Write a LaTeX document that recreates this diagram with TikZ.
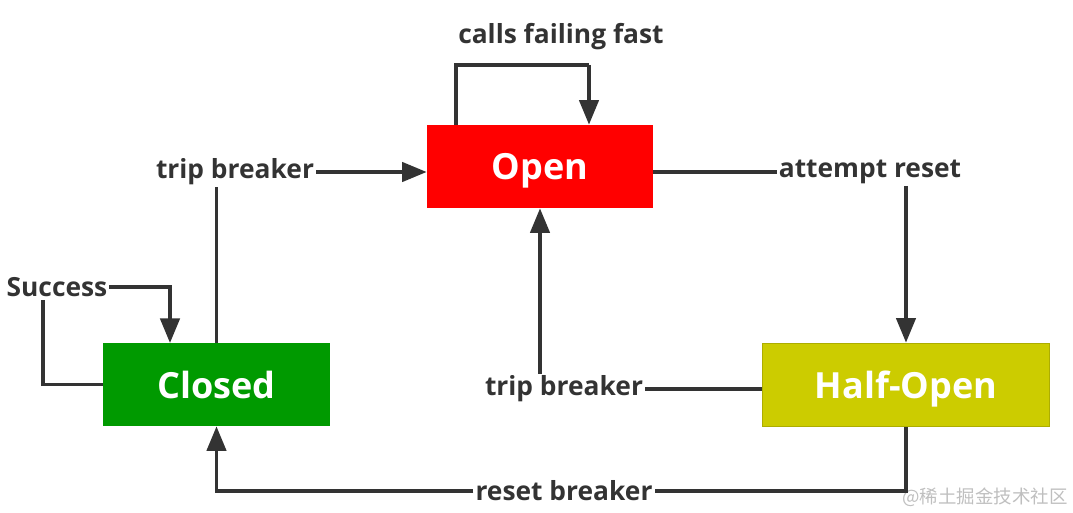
\documentclass[tikz,border=0pt]{standalone}
\usepackage{fontspec}
\setmainfont{Open Sans}
\newfontfamily\cjk{Noto Sans CJK SC}
\usetikzlibrary{arrows.meta}
\definecolor{linegray}{HTML}{333333}
\definecolor{okgreen}{HTML}{009A00}
\definecolor{halfyellow}{HTML}{CCCC00}
\begin{document}
	\begin{tikzpicture}[x=0.02cm,y=-0.02cm,
		state/.style={minimum height=1.66cm,text=white,font=\bfseries\fontsize{20.5}{24}\selectfont,inner sep=0pt,text depth=0pt},
		lbl/.style={text=linegray,font=\bfseries\fontsize{15}{18}\selectfont,inner sep=1pt},
		conn/.style={draw=linegray,line width=2pt},
		arr/.style={conn,-{Triangle[length=14pt,width=11pt]}}]
		\useasboundingbox (0,0) rectangle (1073,513);
		\node[state,fill=red,minimum width=4.52cm] (open) at (540,166.5) {Open};
		\node[state,fill=okgreen,minimum width=4.54cm] (closed) at (216.5,384.5) {Closed};
		\node[state,fill=halfyellow,draw=halfyellow!85!black,line width=1pt,minimum width=5.74cm] (half) at (906,385) {Half-Open};
		\node[lbl] (fast) at (561,37) {calls failing fast};
		\node[lbl] (tripA) at (235,172) {trip breaker};
		\node[lbl] (attempt) at (870,172) {attempt reset};
		\node[lbl] (tripB) at (564,389) {trip breaker};
		\node[lbl] (reset) at (564,491) {reset breaker};
		\node[lbl] (succ) at (57,287) {Success};
		\node[text=black!25,font=\cjk\fontsize{10.5}{12}\selectfont,inner sep=0pt] (mark) at (985,497) {@稀土掘金技术社区};
		\coordinate (loopL) at (456,65);
		\coordinate (loopR) at (589,65);
		\coordinate (succR) at (170,343);
		\coordinate (succL) at (43,300);
		% open -> open
		\draw[conn] (open.north -| loopL) -- (loopL) -- (loopR);
		\draw[arr] (loopR) -- (open.north -| loopR);
		% closed -> open
		\draw[conn] (closed.north) -- (closed.north |- tripA.south);
		\draw[arr] (tripA.east) -- (open.west |- tripA.east);
		% open -> half
		\draw[conn] (open.east |- attempt.west) -- (attempt.west);
		\draw[arr] (attempt.south -| half.north) -- (half.north);
		% half -> open
		\draw[conn] (half.west |- tripB.east) -- (tripB.east);
		\draw[arr] (tripB.north -| open.south) -- (open.south);
		% half -> closed
		\draw[conn] (half.south) |- (reset.east);
		\draw[arr] (reset.west) -| (closed.south);
		% closed -> closed
		\draw[arr] (succ.east) -| (succR);
		\draw[conn] (succL) |- (closed.west);
	\end{tikzpicture}
\end{document}
